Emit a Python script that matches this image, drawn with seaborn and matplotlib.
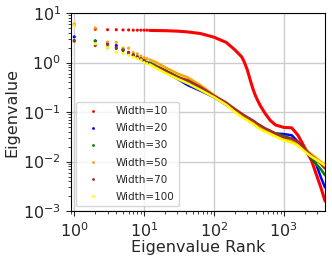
import pandas as pd
import matplotlib
matplotlib.use("Agg")
import matplotlib.pyplot as plt
import seaborn as sns

# anchos de red y sus colores
widths = [10, 20, 30, 50, 70, 100]
colors = ["red", "blue", "green", "orange", "brown", "yellow"]

# primeros rangos: puntos sueltos
head_rank = [1, 2, 3, 4, 5, 6, 7, 8, 9, 10, 11]
head_w10 = [5.6, 4.7, 4.6, 4.6, 4.55, 4.55, 4.5, 4.5, 4.5, 4.5, 4.5]
head_w20 = [3.3, 2.7, 2.45, 2.2, 1.85, 1.6, 1.4, 1.3, 1.18, 1.08, 1.0]
head_w30 = [2.8, 2.75, 2.0, 1.92, 1.75, 1.55, 1.4, 1.3, 1.2, 1.1, 1.02]
head_w50 = [6.0, 5.0, 2.6, 2.55, 1.95, 1.95, 1.6, 1.5, 1.35, 1.25, 1.2]
head_w70 = [2.7, 2.2, 2.3, 2.0, 1.8, 1.6, 1.45, 1.3, 1.2, 1.1, 1.0]
head_w100 = [5.5, 2.4, 2.0, 1.6, 1.52, 1.4, 1.28, 1.2, 1.12, 1.0, 0.95]

# resto del espectro (zona densa)
tail_rank = [12, 15, 20, 30, 42, 64, 100, 150, 200, 250, 270, 300, 330, 360, 390,
             420, 460, 540, 640, 760, 1000, 1300, 1600, 2000, 2500, 2900, 3400, 3900]
tail_w10 = [4.45, 4.42, 4.4, 4.3, 4.15, 3.85, 3.25, 2.55, 1.8, 1.3, 1.05, 0.72,
            0.45, 0.30, 0.22, 0.175, 0.136, 0.094, 0.068, 0.055, 0.049, 0.048,
            0.034, 0.019, 0.0105, 0.0057, 0.003, 0.0016]
tail_w20 = [0.98, 0.82, 0.65, 0.47, 0.35, 0.27, 0.20, 0.14, 0.105, 0.085, 0.08,
            0.072, 0.067, 0.062, 0.058, 0.054, 0.05, 0.045, 0.04, 0.037, 0.036,
            0.034, 0.025, 0.0175, 0.0118, 0.009, 0.0048, 0.003]
tail_w30 = [1.0, 0.85, 0.70, 0.52, 0.42, 0.30, 0.21, 0.15, 0.11, 0.088, 0.082,
            0.075, 0.07, 0.065, 0.06, 0.056, 0.052, 0.046, 0.041, 0.037, 0.033,
            0.029, 0.023, 0.017, 0.012, 0.009, 0.007, 0.0053]
tail_w50 = [1.15, 1.0, 0.80, 0.60, 0.50, 0.35, 0.22, 0.15, 0.112, 0.09, 0.083,
            0.076, 0.07, 0.065, 0.06, 0.056, 0.052, 0.045, 0.04, 0.036, 0.03,
            0.026, 0.022, 0.018, 0.014, 0.012, 0.01, 0.0085]
tail_w70 = [0.95, 0.82, 0.68, 0.50, 0.44, 0.32, 0.215, 0.155, 0.115, 0.093,
            0.086, 0.079, 0.073, 0.068, 0.063, 0.058, 0.054, 0.047, 0.042,
            0.037, 0.031, 0.029, 0.025, 0.018, 0.013, 0.011, 0.009, 0.0072]
tail_w100 = [0.92, 0.77, 0.62, 0.47, 0.38, 0.28, 0.20, 0.14, 0.10, 0.08, 0.074,
             0.068, 0.062, 0.058, 0.054, 0.049, 0.045, 0.04, 0.036, 0.032,
             0.027, 0.024, 0.021, 0.016, 0.0125, 0.011, 0.0095, 0.0083]

heads = [head_w10, head_w20, head_w30, head_w50, head_w70, head_w100]
tails = [tail_w10, tail_w20, tail_w30, tail_w50, tail_w70, tail_w100]

labels = [f"Width={w}" for w in widths]
palette = dict(zip(labels, colors))

head_df = pd.concat(
    [pd.DataFrame({"rank": head_rank, "eig": v, "model": lab}) for lab, v in zip(labels, heads)],
    ignore_index=True,
)
tail_df = pd.concat(
    [pd.DataFrame({"rank": tail_rank, "eig": v, "model": lab}) for lab, v in zip(labels, tails)],
    ignore_index=True,
)

sns.set_style("ticks")
fig = plt.figure(figsize=(3.32, 2.6), dpi=100)
ax = fig.add_axes([0.214, 0.188, 0.765, 0.762])

sns.lineplot(data=tail_df, x="rank", y="eig", hue="model", palette=palette,
             linewidth=1.8, legend=False, ax=ax)
for line in ax.get_lines():
    if line.get_color() == "red":
        line.set_linewidth(2.2)
sns.scatterplot(data=head_df, x="rank", y="eig", hue="model", palette=palette,
                s=5, linewidth=0, ax=ax)

ax.set_xscale("log")
ax.set_yscale("log")
ax.set_xlim(0.9, 3900)
ax.set_ylim(1e-3, 1e1)
ax.grid(True, which="major", color="#cccccc", linewidth=1.0)
ax.set_axisbelow(True)
ax.tick_params(axis="both", which="major", labelsize=11.5, length=3.5, width=0.8)
ax.tick_params(axis="both", which="minor", length=2, width=0.6)
for sp in ax.spines.values():
    sp.set_color("black")
    sp.set_linewidth(0.8)

ax.set_xlabel("Eigenvalue Rank", fontsize=11.5, labelpad=0)
ax.set_ylabel("Eigenvalue", fontsize=11.5, labelpad=3)

ax.legend(loc="lower left", fontsize=7.5, markerscale=0.9, title=None,
          handlelength=2.4, handletextpad=1.0, labelspacing=0.68)

fig.savefig("out.png", dpi=100)
